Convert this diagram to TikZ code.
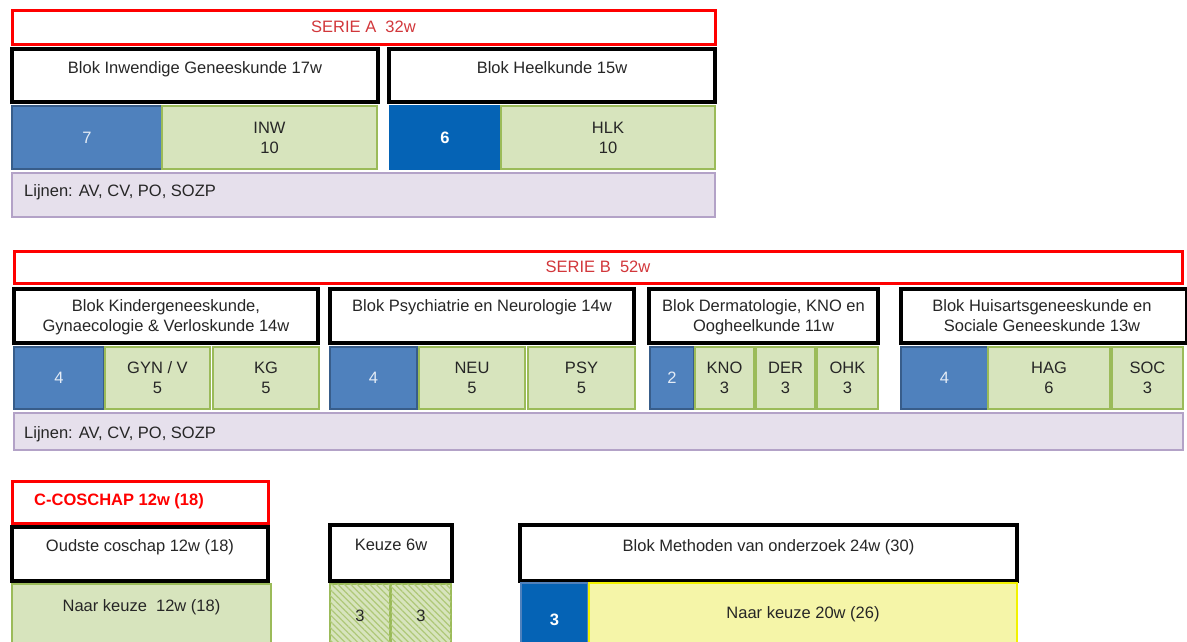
\documentclass[tikz,border=0pt]{standalone}
\usepackage{fontspec}
\setmainfont{Liberation Sans}
\usetikzlibrary{patterns.meta}
\definecolor{serred}{HTML}{FF0000}
\definecolor{sertxt}{HTML}{D2373B}
\definecolor{cellgreen}{HTML}{D7E4BD}
\definecolor{greenedge}{HTML}{9BBB59}
\definecolor{stblue}{HTML}{4F81BD}
\definecolor{stblueedge}{HTML}{385D8A}
\definecolor{dkblue}{HTML}{0563B5}
\definecolor{lavfill}{HTML}{E6E0EC}
\definecolor{lavedge}{HTML}{B3A2C7}
\definecolor{yelfill}{HTML}{F5F5A8}
\definecolor{yeledge}{HTML}{F2F200}
\definecolor{hatchline}{HTML}{AFC878}
\definecolor{lighttxt}{HTML}{E4ECF6}
\begin{document}
\begin{tikzpicture}[x=1pt,y=-1pt,
  box/.style={anchor=north west,inner sep=0pt,outer sep=0pt},
  serbox/.style={box,draw=serred,line width=3pt,fill=white},
  blokbox/.style={box,draw=black,line width=3.5pt,fill=white},
  green/.style={box,draw=greenedge,line width=2pt,fill=cellgreen,align=center,font=\fontsize{16.5}{20}\selectfont,text=black!85},
  blueA/.style={box,draw=stblueedge,line width=1.2pt,fill=stblue,text=lighttxt,font=\fontsize{16.5}{20}\selectfont},
  blueB/.style={box,draw=dkblue,line width=1.2pt,fill=dkblue,text=white,font=\fontsize{16.5}{20}\selectfont\bfseries},
  lav/.style={box,draw=lavedge,line width=2pt,fill=lavfill},
  hatch/.style={green,postaction={pattern={Lines[angle=-45,distance=4.5pt,line width=1.2pt]},pattern color=hatchline}},
  yel/.style={box,draw=yeledge,line width=2pt,fill=yelfill,font=\fontsize{16.5}{20}\selectfont,text=black!85},
  txt/.style={inner sep=0pt,align=center,font=\fontsize{16.5}{20}\selectfont,text=black!85},
]
\useasboundingbox (0,0) rectangle (1187,641);
\fill[white] (0,0) rectangle (1187,641);

% ---------- SERIE A ----------
\node[serbox,minimum width=703pt,minimum height=34pt] (sa) at (12,10) {};
\node[txt,text=sertxt] at (sa.center) {SERIE A\ \ 32w};
\node[blokbox,minimum width=366pt,minimum height=53pt] (binw) at (12,49) {};
\node[txt,anchor=north] at ([yshift=-12pt]binw.north) {Blok Inwendige Geneeskunde 17w};
\node[blokbox,minimum width=326pt,minimum height=53pt] (bhlk) at (389,49) {};
\node[txt,anchor=north] at ([yshift=-12pt]bhlk.north) {Blok Heelkunde 15w};

\node[blueA,minimum width=150pt,minimum height=63pt] (c7) at (12,106) {7};
\node[green,minimum width=215pt,minimum height=63pt] (cinw) at (162,106) {INW\\10};
\node[blueB,minimum width=110pt,minimum height=63pt] (c6) at (390,106) {6};
\node[green,minimum width=214pt,minimum height=63pt] (chlk) at (501,106) {HLK\\10};

\node[lav,minimum width=703pt,minimum height=44pt] (la) at (12,173) {};
\node[txt,anchor=west] at ([xshift=12pt,yshift=3pt]la.west) {Lijnen: AV, CV, PO, SOZP};

% ---------- SERIE B ----------
\node[serbox,minimum width=1168pt,minimum height=32pt] (sb) at (14,251) {};
\node[txt,text=sertxt] at (sb.center) {SERIE B\ \ 52w};

\node[blokbox,minimum width=304pt,minimum height=54pt] (bkg) at (14,289) {};
\node[txt,anchor=north] at ([yshift=-10pt]bkg.north) {Blok Kindergeneeskunde,\\Gynaecologie \& Verloskunde 14w};
\node[blokbox,minimum width=304pt,minimum height=54pt] (bpsy) at (330,289) {};
\node[txt,anchor=north] at ([yshift=-10pt]bpsy.north) {Blok Psychiatrie en Neurologie 14w};
\node[blokbox,minimum width=229pt,minimum height=54pt] (bder) at (649,289) {};
\node[txt,anchor=north] at ([yshift=-10pt]bder.north) {Blok Dermatologie, KNO en\\Oogheelkunde 11w};
\node[blokbox,minimum width=286pt,minimum height=54pt] (bhag) at (901,289) {};
\node[txt,anchor=north] at ([xshift=-2pt,yshift=-10pt]bhag.north) {Blok Huisartsgeneeskunde en\\Sociale Geneeskunde 13w};

\node[blueA,minimum width=90pt,minimum height=62pt] (b1) at (14,347) {4};
\node[green,minimum width=105pt,minimum height=62pt] (cgyn) at (105,347) {GYN / V\\5};
\node[green,minimum width=106pt,minimum height=62pt] (ckg) at (213,347) {KG\\5};

\node[blueA,minimum width=87pt,minimum height=62pt] (b2) at (330,347) {4};
\node[green,minimum width=106pt,minimum height=62pt] (cneu) at (419,347) {NEU\\5};
\node[green,minimum width=107pt,minimum height=62pt] (cpsy) at (528,347) {PSY\\5};

\node[blueA,minimum width=44pt,minimum height=62pt] (b3) at (650,347) {2};
\node[green,minimum width=59pt,minimum height=62pt] (ckno) at (695,347) {KNO\\3};
\node[green,minimum width=59pt,minimum height=62pt] (cder) at (756,347) {DER\\3};
\node[green,minimum width=61pt,minimum height=62pt] (cohk) at (817,347) {OHK\\3};

\node[blueA,minimum width=87pt,minimum height=62pt] (b4) at (901,347) {4};
\node[green,minimum width=122pt,minimum height=62pt] (chag) at (988,347) {HAG\\6};
\node[green,minimum width=71pt,minimum height=62pt] (csoc) at (1112,347) {SOC\\3};

\node[lav,minimum width=1169pt,minimum height=37pt] (lb) at (14,413) {};
\node[txt,anchor=west] at ([xshift=10pt,yshift=-3pt]lb.west) {Lijnen: AV, CV, PO, SOZP};

% ---------- C-COSCHAP ----------
\node[serbox,minimum width=256pt,minimum height=42pt] (cc) at (12,481) {};
\node[txt,anchor=west,text=serred,font=\fontsize{16.5}{20}\selectfont\bfseries] at ([xshift=22pt,yshift=1pt]cc.west) {C-COSCHAP 12w (18)};

\node[blokbox,minimum width=256pt,minimum height=54pt] (boud) at (12,527) {};
\node[txt,anchor=north] at ([yshift=-12pt]boud.north) {Oudste coschap 12w (18)};
\node[green,minimum width=259pt,minimum height=60pt] (cnk) at (12,584) {};
\node[txt,anchor=north] at ([yshift=-15pt]cnk.north) {Naar keuze\ \ 12w (18)};

\node[blokbox,minimum width=122pt,minimum height=56pt] (bkz) at (330,525) {};
\node[txt,anchor=north] at ([yshift=-14pt]bkz.north) {Keuze 6w};
\node[hatch,minimum width=60pt,minimum height=60pt] (h1) at (330,584) {};
\node[txt] at ([yshift=-2pt]h1.center) {3};
\node[hatch,minimum width=60pt,minimum height=60pt] (h2) at (391,584) {};
\node[txt] at ([yshift=-2pt]h2.center) {3};

\node[blokbox,minimum width=497pt,minimum height=56pt] (bmet) at (520,525) {};
\node[txt,anchor=north] at ([yshift=-14pt]bmet.north) {Blok Methoden van onderzoek 24w (30)};
\node[blueB,minimum width=67pt,minimum height=62pt,draw=stblue] (c3) at (521,583) {};
\node[txt,text=white,font=\fontsize{16.5}{20}\selectfont\bfseries] at ([yshift=-6pt]c3.center) {3};
\node[yel,minimum width=428pt,minimum height=62pt] (cyel) at (589,583) {};
\node[txt] at ([yshift=0pt]cyel.center) {Naar keuze 20w (26)};
\end{tikzpicture}
\end{document}
